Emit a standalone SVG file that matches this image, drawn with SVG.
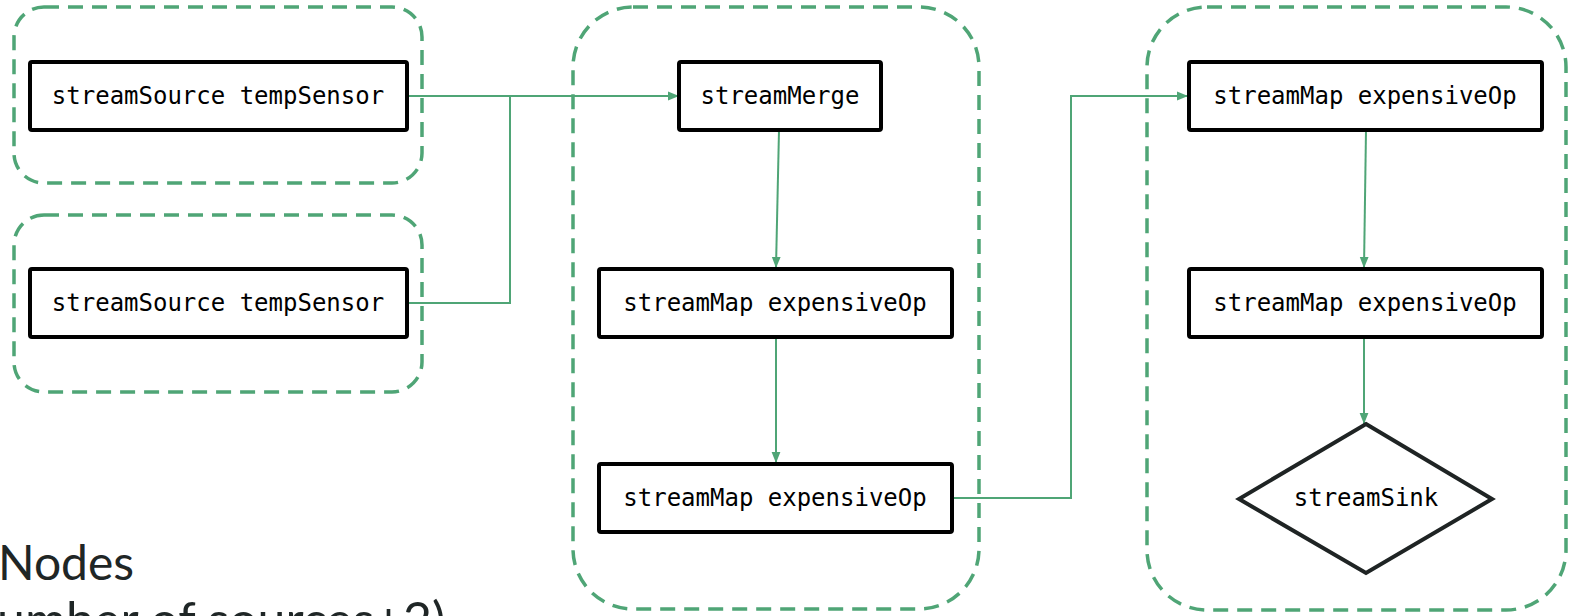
<svg xmlns="http://www.w3.org/2000/svg" width="1570" height="616" viewBox="0 0 1570 616">
<style>
.grp{fill:none;stroke:#4fa576;stroke-width:3.5;stroke-dasharray:15 9}
.box{fill:#fff;stroke:#000;stroke-width:4}
.dia{fill:#fff;stroke:#1f2424;stroke-width:4;stroke-linejoin:miter}
.lbl{font-family:"DejaVu Sans Mono","Liberation Mono",monospace;font-size:24px;fill:#000;text-anchor:middle;dominant-baseline:central}
.edge{fill:none;stroke:#4fa576;stroke-width:2}
.cap{font-family:Lato,"Noto Sans",sans-serif;font-size:48px;fill:#1f2626}
</style>
<defs>
<marker id="arr" viewBox="0 0 10 10" refX="10" refY="5" markerWidth="11" markerHeight="11" markerUnits="userSpaceOnUse" orient="auto">
<path d="M0,1 L10,5 L0,9 Z" fill="#4fa576"/>
</marker>
</defs>
<g id="groups">
<rect id="g1" class="grp" x="14" y="7" width="408" height="176" rx="30"/>
<rect id="g2" class="grp" x="14" y="215" width="408" height="177" rx="30"/>
<rect id="g3" class="grp" x="573" y="7" width="406" height="602" rx="60"/>
<rect id="g4" class="grp" x="1147" y="7" width="419" height="603" rx="60"/>
</g>
<g id="connectors">
<path class="edge" d="M407,96 H679" marker-end="url(#arr)"/>
<path class="edge" d="M407,303 H510 V96"/>
<path class="edge" d="M779,130 L776,268" marker-end="url(#arr)"/>
<path class="edge" d="M776,337 V463" marker-end="url(#arr)"/>
<path class="edge" d="M952,498 H1071 V96 H1188" marker-end="url(#arr)"/>
<path class="edge" d="M1366,130 L1364,268" marker-end="url(#arr)"/>
<path class="edge" d="M1364,337 V424" marker-end="url(#arr)"/>
</g>
<g id="src1"><rect class="box" x="30" y="62" width="377" height="68" rx="2"/><text class="lbl" x="218" y="96">streamSource tempSensor</text></g>
<g id="src2"><rect class="box" x="30" y="269" width="377" height="68" rx="2"/><text class="lbl" x="218" y="303">streamSource tempSensor</text></g>
<g id="merge"><rect class="box" x="679" y="62" width="202" height="68" rx="2"/><text class="lbl" x="780" y="96">streamMerge</text></g>
<g id="map1"><rect class="box" x="599" y="269" width="353" height="68" rx="2"/><text class="lbl" x="775" y="303">streamMap expensiveOp</text></g>
<g id="map2"><rect class="box" x="599" y="464" width="353" height="68" rx="2"/><text class="lbl" x="775" y="498">streamMap expensiveOp</text></g>
<g id="map3"><rect class="box" x="1189" y="62" width="353" height="68" rx="2"/><text class="lbl" x="1365" y="96">streamMap expensiveOp</text></g>
<g id="map4"><rect class="box" x="1189" y="269" width="353" height="68" rx="2"/><text class="lbl" x="1365" y="303">streamMap expensiveOp</text></g>
<g id="sink"><polygon class="dia" points="1366,424 1492,499 1366,573 1239,499"/><text class="lbl" x="1366" y="498">streamSink</text></g>
<g id="caption">
<text class="cap" x="-2" y="580">Nodes</text>
<text class="cap" x="-3" y="638" style="font-size:50px">umber of sources+2)</text>
</g>
</svg>
